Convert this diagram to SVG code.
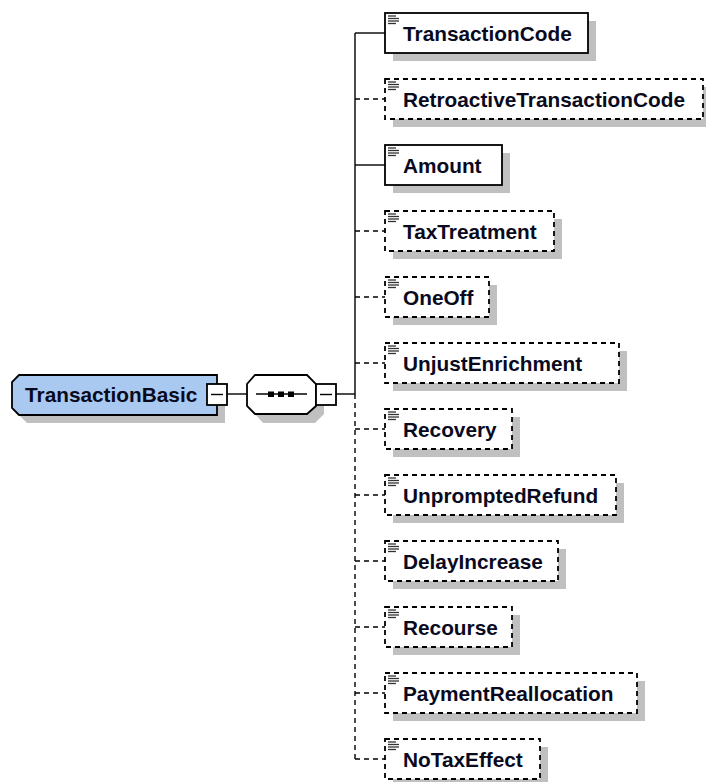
<svg xmlns="http://www.w3.org/2000/svg" width="706" height="782" viewBox="0 0 706 782">
<style>
.bg{fill:#ffffff}
.shadow{fill:#c0c0c0;stroke:none}
.box{fill:#ffffff;stroke:#000;stroke-width:1.8}
.opt{fill:#ffffff;stroke:#000;stroke-width:1.8;stroke-dasharray:5,4}
.root{fill:#a9c9f1;stroke:#000;stroke-width:1.8}
.lbl{font-family:"Liberation Sans",Arial,sans-serif;font-weight:bold;font-size:20.8px;fill:#0a0a1e}
.con{fill:none;stroke:#000;stroke-width:1.4}
.dcon{fill:none;stroke:#000;stroke-width:1.4;stroke-dasharray:5,4}
.ico{stroke:#333;stroke-width:1.3}
</style>
<defs>
<g id="icon">
<line class="ico" x1="0" y1="1" x2="8" y2="1"/>
<line class="ico" x1="0" y1="3.5" x2="11" y2="3.5"/>
<line class="ico" x1="0" y1="6" x2="11" y2="6"/>
<line class="ico" x1="0" y1="8.5" x2="8" y2="8.5"/>
</g>
</defs>
<rect class="bg" x="0" y="0" width="706" height="782"/>

<g id="connectors">
<line class="con" x1="227" y1="394" x2="247" y2="394"/>
<line class="con" x1="336" y1="394" x2="355" y2="394"/>
<line class="con" x1="355" y1="33" x2="355" y2="394"/>
<line class="dcon" x1="355" y1="394" x2="355" y2="759"/>
<line class="con" x1="355" y1="33" x2="385" y2="33"/>
<line class="dcon" x1="355" y1="99" x2="385" y2="99"/>
<line class="con" x1="355" y1="165" x2="385" y2="165"/>
<line class="dcon" x1="355" y1="231" x2="385" y2="231"/>
<line class="dcon" x1="355" y1="297" x2="385" y2="297"/>
<line class="dcon" x1="355" y1="363" x2="385" y2="363"/>
<line class="dcon" x1="355" y1="429" x2="385" y2="429"/>
<line class="dcon" x1="355" y1="495" x2="385" y2="495"/>
<line class="dcon" x1="355" y1="561" x2="385" y2="561"/>
<line class="dcon" x1="355" y1="627" x2="385" y2="627"/>
<line class="dcon" x1="355" y1="693" x2="385" y2="693"/>
<line class="dcon" x1="355" y1="759" x2="385" y2="759"/>
</g>

<g id="TransactionBasic">
<path class="shadow" d="M27,383 L225,383 L225,423 L27,423 L20,416 L20,390 Z"/>
<path class="root" d="M19,375 L217,375 L217,415 L19,415 L12,408 L12,382 Z"/>
<text class="lbl" x="25" y="402">TransactionBasic</text>
<rect class="box" x="207" y="384" width="20" height="21" stroke-width="1.4"/>
<line class="con" x1="211" y1="394.5" x2="223" y2="394.5"/>
</g>

<g id="sequence">
<path class="shadow" d="M263,383 L315,383 L324,392 L324,414 L315,423 L263,423 L255,414 L255,392 Z"/>
<path class="box" d="M255,375 L307,375 L316,384 L316,406 L307,414 L255,414 L247,406 L247,384 Z"/>
<line class="con" x1="256" y1="394" x2="307" y2="394"/>
<rect x="268" y="391.5" width="6" height="5.5" fill="#000"/>
<rect x="278" y="391.5" width="6" height="5.5" fill="#000"/>
<rect x="288" y="391.5" width="6" height="5.5" fill="#000"/>
<rect class="box" x="316" y="384" width="20" height="21" stroke-width="1.4"/>
<line class="con" x1="320" y1="394.5" x2="332" y2="394.5"/>
</g>

<g id="TransactionCode">
<rect class="shadow" x="393" y="21" width="203" height="40"/>
<rect class="box" x="385" y="13" width="203" height="40"/>
<use href="#icon" x="388" y="15"/>
<text class="lbl" x="403" y="41">TransactionCode</text>
</g>
<g id="RetroactiveTransactionCode">
<rect class="shadow" x="393" y="87" width="318" height="40"/>
<rect class="opt" x="385" y="79" width="318" height="40"/>
<use href="#icon" x="388" y="81"/>
<text class="lbl" x="403" y="107">RetroactiveTransactionCode</text>
</g>
<g id="Amount">
<rect class="shadow" x="393" y="153" width="117" height="40"/>
<rect class="box" x="385" y="145" width="117" height="40"/>
<use href="#icon" x="388" y="147"/>
<text class="lbl" x="403" y="173">Amount</text>
</g>
<g id="TaxTreatment">
<rect class="shadow" x="393" y="219" width="169" height="40"/>
<rect class="opt" x="385" y="211" width="169" height="40"/>
<use href="#icon" x="388" y="213"/>
<text class="lbl" x="403" y="239">TaxTreatment</text>
</g>
<g id="OneOff">
<rect class="shadow" x="393" y="285" width="104" height="40"/>
<rect class="opt" x="385" y="277" width="104" height="40"/>
<use href="#icon" x="388" y="279"/>
<text class="lbl" x="403" y="305">OneOff</text>
</g>
<g id="UnjustEnrichment">
<rect class="shadow" x="393" y="351" width="234" height="40"/>
<rect class="opt" x="385" y="343" width="234" height="40"/>
<use href="#icon" x="388" y="345"/>
<text class="lbl" x="403" y="371">UnjustEnrichment</text>
</g>
<g id="Recovery">
<rect class="shadow" x="393" y="417" width="127" height="40"/>
<rect class="opt" x="385" y="409" width="127" height="40"/>
<use href="#icon" x="388" y="411"/>
<text class="lbl" x="403" y="437">Recovery</text>
</g>
<g id="UnpromptedRefund">
<rect class="shadow" x="393" y="483" width="231" height="40"/>
<rect class="opt" x="385" y="475" width="231" height="40"/>
<use href="#icon" x="388" y="477"/>
<text class="lbl" x="403" y="503">UnpromptedRefund</text>
</g>
<g id="DelayIncrease">
<rect class="shadow" x="393" y="549" width="173" height="40"/>
<rect class="opt" x="385" y="541" width="173" height="40"/>
<use href="#icon" x="388" y="543"/>
<text class="lbl" x="403" y="569">DelayIncrease</text>
</g>
<g id="Recourse">
<rect class="shadow" x="393" y="615" width="127" height="40"/>
<rect class="opt" x="385" y="607" width="127" height="40"/>
<use href="#icon" x="388" y="609"/>
<text class="lbl" x="403" y="635">Recourse</text>
</g>
<g id="PaymentReallocation">
<rect class="shadow" x="393" y="681" width="252" height="40"/>
<rect class="opt" x="385" y="673" width="252" height="40"/>
<use href="#icon" x="388" y="675"/>
<text class="lbl" x="403" y="701">PaymentReallocation</text>
</g>
<g id="NoTaxEffect">
<rect class="shadow" x="393" y="747" width="155" height="40"/>
<rect class="opt" x="385" y="739" width="155" height="40"/>
<use href="#icon" x="388" y="741"/>
<text class="lbl" x="403" y="767">NoTaxEffect</text>
</g>
</svg>
